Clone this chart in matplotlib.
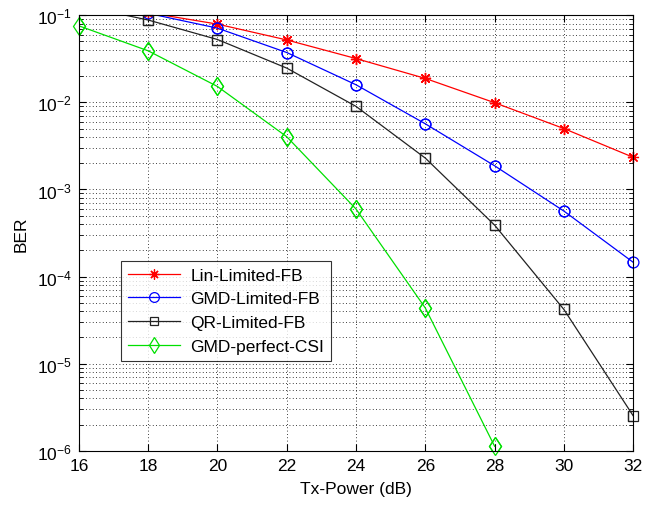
import matplotlib
matplotlib.use("Agg")
import numpy as np
import matplotlib.pyplot as plt
from matplotlib.ticker import LogLocator, NullFormatter, MultipleLocator

plt.rcParams['font.family'] = ['Liberation Sans', 'DejaVu Sans']
plt.rcParams['mathtext.fontset'] = 'custom'
plt.rcParams['mathtext.rm'] = 'Liberation Sans'
plt.rcParams['mathtext.it'] = 'Liberation Sans'

# Transmit power (dB)
tx_power = [16, 18, 20, 22, 24, 26, 28, 30, 32]

# Bit error rates per scheme
ber_lin = [0.135, 0.107, 0.079, 0.052, 0.0318, 0.0188, 0.0099, 0.0050, 0.00234]
ber_gmd = [0.13, 0.105, 0.071, 0.0373, 0.0159, 0.00567, 0.00187, 0.000565, 0.000146]
ber_qr = [0.13, 0.088, 0.0526, 0.0247, 0.00898, 0.00229, 0.00039, 4.2e-5, 2.53e-6]
tx_csi = [16, 18, 20, 22, 24, 26, 28]
ber_csi = [0.0755, 0.039, 0.0152, 0.00403, 0.000596, 4.36e-5, 1.13e-6]

labels = ['Lin-Limited-FB', 'GMD-Limited-FB', 'QR-Limited-FB', 'GMD-perfect-CSI']

YMIN, YMAX = 1e-6, 1e-1

fig = plt.figure(figsize=(6.63, 5.06), dpi=100)
ax = fig.add_axes([0.119, 0.107, 0.836, 0.861])

series = [
    (tx_power, ber_lin, 'red', (8, 2, 0), 8.0),
    (tx_power, ber_gmd, 'blue', 'o', 7.8),
    (tx_power, ber_qr, '#222222', 's', 6.8),
    (tx_csi, ber_csi, '#00e000', 'd', 9.5),
]

handles = []
for (x, y, c, m, ms), lab in zip(series, labels):
    h, = ax.semilogy(x, y, color=c, lw=0.9, marker=m, ms=ms, mew=0.9,
                     mfc='none', label=lab)
    handles.append(h)
    # markers sitting on the axes border stay whole
    y_arr = np.array(y, dtype=float)
    inside = y_arr <= YMAX * 1.001
    ax.semilogy(np.array(x)[inside], y_arr[inside], linestyle='none', color=c,
                marker=m, ms=ms, mew=0.9, mfc='none', clip_on=False)

ax.set_xlim(16, 32)
ax.set_ylim(YMIN, YMAX)
ax.xaxis.set_major_locator(MultipleLocator(2))
ax.yaxis.set_major_locator(LogLocator(base=10, numticks=10))
ax.yaxis.set_minor_locator(LogLocator(base=10, subs=range(2, 10), numticks=20))
ax.yaxis.set_minor_formatter(NullFormatter())

ax.grid(True, which='major', axis='both', color='black', linestyle=(0, (1, 3)), lw=0.6)
ax.grid(True, which='minor', axis='y', color='black', linestyle=(0, (1, 3)), lw=0.6)

ax.tick_params(which='both', direction='in', top=True, right=True, labelsize=12.5)
ax.tick_params(which='major', length=5, pad=5)
ax.tick_params(which='minor', length=3)
for s in ax.spines.values():
    s.set_linewidth(0.8)

ax.set_xlabel('Tx-Power (dB)', fontsize=12.5, labelpad=6)
ax.set_ylabel('BER', fontsize=12.5, labelpad=6)

leg = ax.legend(handles=handles, loc='lower left', bbox_to_anchor=(0.076, 0.206),
                fontsize=12.5, frameon=True, fancybox=False, edgecolor='black',
                handlelength=3.0, handletextpad=0.6, borderpad=0.4,
                labelspacing=0.5, borderaxespad=0, markerscale=0.9)
leg.get_frame().set_linewidth(0.8)

fig.savefig('out.png', dpi=100, facecolor='white')
